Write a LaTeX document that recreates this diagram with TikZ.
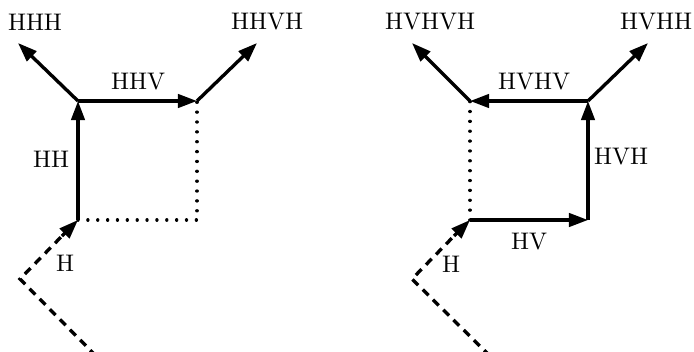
\documentclass[tikz,border=0pt]{standalone}
\usetikzlibrary{arrows.meta}
\begin{document}
\begin{tikzpicture}[x=0.4167pt,y=-0.4167pt,
  arr/.style={line width=1.4pt,-{Triangle[length=8pt,width=5.6pt]}},
  dashedpath/.style={line width=1.4pt,dash pattern=on 3.4pt off 2.6pt},
  dottedpath/.style={line width=1.4pt,dash pattern=on 0.01pt off 4.1pt,line cap=round},
  lbl/.style={inner sep=0pt,font=\normalsize}]
\useasboundingbox (0,0) rectangle (694,352);
% left diagram
\coordinate (ls) at (96,356);
\coordinate (lc) at (20,279);
\coordinate (lpre) at (62,236);
\coordinate (la) at (78,220);
\coordinate (lb) at (78,101);
\coordinate (lcc) at (197,101);
\coordinate (ld) at (197,220);
\coordinate (lhhh) at (18,43);
\coordinate (lhhvh) at (257,43);
\draw[dashedpath] (ls) -- (lc) -- (lpre);
\draw[arr] (lpre) -- (la);
\draw[dottedpath] (la) -- (ld) -- (lcc);
\draw[arr] (la) -- (lb);
\draw[arr] (lb) -- (lcc);
\draw[arr] (lb) -- (lhhh);
\draw[arr] (lcc) -- (lhhvh);
\node[lbl] (tH1) at (65,263) {H};
\node[lbl] (tHH) at (51,159) {HH};
\node[lbl] (tHHV) at (138,82) {HHV};
\node[lbl] (tHHH) at (35,22) {HHH};
\node[lbl] (tHHVH) at (267,22) {HHVH};
% right diagram
\coordinate (rs) at (490,356);
\coordinate (rc) at (412,279);
\coordinate (rpre) at (454,236);
\coordinate (ra) at (470,220);
\coordinate (re) at (588,220);
\coordinate (rf) at (588,101);
\coordinate (rg) at (470,101);
\coordinate (rhvhvh) at (412,43);
\coordinate (rhvhh) at (648,43);
\draw[dashedpath] (rs) -- (rc) -- (rpre);
\draw[arr] (rpre) -- (ra);
\draw[dottedpath] (ra) -- (rg);
\draw[arr] (ra) -- (re);
\draw[arr] (re) -- (rf);
\draw[arr] (rf) -- (rg);
\draw[arr] (rg) -- (rhvhvh);
\draw[arr] (rf) -- (rhvhh);
\node[lbl] (tH2) at (451,264) {H};
\node[lbl] (tHV) at (529,242) {HV};
\node[lbl] (tHVH) at (621,157) {HVH};
\node[lbl] (tHVHV) at (534,82) {HVHV};
\node[lbl] (tHVHVH) at (430,22) {HVHVH};
\node[lbl] (tHVHH) at (656,22) {HVHH};
\end{tikzpicture}
\end{document}
